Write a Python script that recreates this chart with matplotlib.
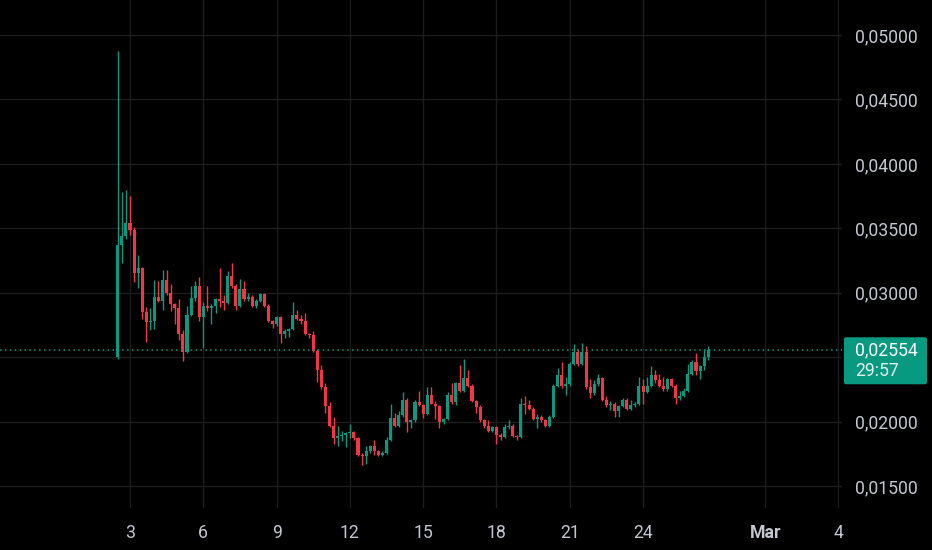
import matplotlib
matplotlib.use('Agg')
import matplotlib.pyplot as plt
import matplotlib.dates as mdates
from matplotlib.patches import FancyBboxPatch
import numpy as np
import pandas as pd

# 4h свещи, прочетени от графиката
opens = [0.0250, 0.0337, 0.0344, 0.0354, 0.0349, 0.0315, 0.0319, 0.0285, 0.0277, 0.0278,
         0.0297, 0.0294, 0.0310, 0.0300, 0.0291, 0.0288, 0.0268, 0.0254, 0.0283, 0.0296,
         0.0305, 0.0281, 0.0290, 0.0288, 0.0290, 0.0295, 0.0294, 0.0292, 0.0313, 0.0305,
         0.0290, 0.0303, 0.0295, 0.0297, 0.0290, 0.0294, 0.0299, 0.0290, 0.0278, 0.0276,
         0.0281, 0.0268, 0.0270, 0.0272, 0.0283, 0.0280, 0.0278, 0.0268, 0.0267, 0.0255,
         0.0240, 0.0227, 0.0212, 0.0197, 0.0187, 0.0189, 0.0190, 0.0191, 0.0192, 0.0187,
         0.0174, 0.0173, 0.0177, 0.0181, 0.0177, 0.0174, 0.0176, 0.0186, 0.0203, 0.0197,
         0.0205, 0.0217, 0.0200, 0.0201, 0.0215, 0.0213, 0.0206, 0.0221, 0.0214, 0.0212,
         0.0200, 0.0202, 0.0221, 0.0215, 0.0230, 0.0224, 0.0234, 0.0228, 0.0216, 0.0211,
         0.0201, 0.0197, 0.0193, 0.0196, 0.0190, 0.0188, 0.0196, 0.0197, 0.0189, 0.0188,
         0.0214, 0.0213, 0.0210, 0.0202, 0.0204, 0.0201, 0.0197, 0.0204, 0.0228, 0.0236,
         0.0228, 0.0229, 0.0245, 0.0254, 0.0245, 0.0254, 0.0227, 0.0222, 0.0229, 0.0234,
         0.0217, 0.0213, 0.0214, 0.0208, 0.0212, 0.0217, 0.0210, 0.0213, 0.0214, 0.0228,
         0.0223, 0.0228, 0.0236, 0.0232, 0.0228, 0.0225, 0.0233, 0.0228, 0.0218, 0.0220,
         0.0224, 0.0237, 0.0246, 0.0239, 0.0243, 0.0250]
highs = [0.0488, 0.0378, 0.0380, 0.0375, 0.0351, 0.0329, 0.0320, 0.0289, 0.0288, 0.0310,
         0.0309, 0.0318, 0.0318, 0.0307, 0.0292, 0.0295, 0.0271, 0.0290, 0.0305, 0.0309,
         0.0312, 0.0293, 0.0305, 0.0291, 0.0296, 0.0319, 0.0298, 0.0317, 0.0323, 0.0307,
         0.0311, 0.0309, 0.0300, 0.0298, 0.0295, 0.0300, 0.0300, 0.0291, 0.0279, 0.0282,
         0.0282, 0.0272, 0.0273, 0.0293, 0.0287, 0.0283, 0.0284, 0.0269, 0.0270, 0.0256,
         0.0244, 0.0230, 0.0215, 0.0204, 0.0197, 0.0193, 0.0192, 0.0198, 0.0193, 0.0188,
         0.0176, 0.0181, 0.0182, 0.0186, 0.0178, 0.0177, 0.0188, 0.0214, 0.0207, 0.0208,
         0.0223, 0.0218, 0.0202, 0.0217, 0.0224, 0.0214, 0.0227, 0.0227, 0.0216, 0.0213,
         0.0203, 0.0223, 0.0230, 0.0231, 0.0244, 0.0249, 0.0240, 0.0229, 0.0217, 0.0213,
         0.0202, 0.0201, 0.0197, 0.0197, 0.0191, 0.0198, 0.0201, 0.0198, 0.0190, 0.0218,
         0.0220, 0.0217, 0.0211, 0.0206, 0.0205, 0.0202, 0.0205, 0.0229, 0.0242, 0.0246,
         0.0235, 0.0246, 0.0260, 0.0256, 0.0261, 0.0259, 0.0233, 0.0232, 0.0237, 0.0235,
         0.0220, 0.0216, 0.0215, 0.0213, 0.0218, 0.0218, 0.0217, 0.0215, 0.0235, 0.0233,
         0.0235, 0.0243, 0.0240, 0.0237, 0.0235, 0.0234, 0.0234, 0.0229, 0.0224, 0.0226,
         0.0245, 0.0248, 0.0253, 0.0244, 0.0256, 0.0259]
lows = [0.0249, 0.0323, 0.0342, 0.0345, 0.0308, 0.0304, 0.0280, 0.0262, 0.0271, 0.0272,
        0.0293, 0.0287, 0.0298, 0.0286, 0.0276, 0.0263, 0.0247, 0.0253, 0.0282, 0.0294,
        0.0278, 0.0257, 0.0286, 0.0276, 0.0284, 0.0289, 0.0287, 0.0291, 0.0304, 0.0287,
        0.0289, 0.0294, 0.0294, 0.0289, 0.0288, 0.0293, 0.0289, 0.0277, 0.0273, 0.0274,
        0.0261, 0.0265, 0.0266, 0.0271, 0.0279, 0.0276, 0.0267, 0.0265, 0.0254, 0.0231,
        0.0225, 0.0207, 0.0196, 0.0183, 0.0181, 0.0185, 0.0180, 0.0187, 0.0186, 0.0173,
        0.0166, 0.0167, 0.0176, 0.0174, 0.0173, 0.0173, 0.0175, 0.0185, 0.0196, 0.0196,
        0.0204, 0.0192, 0.0195, 0.0200, 0.0212, 0.0203, 0.0205, 0.0214, 0.0202, 0.0195,
        0.0198, 0.0201, 0.0214, 0.0213, 0.0223, 0.0223, 0.0227, 0.0215, 0.0207, 0.0200,
        0.0195, 0.0192, 0.0192, 0.0183, 0.0186, 0.0187, 0.0194, 0.0188, 0.0186, 0.0187,
        0.0206, 0.0209, 0.0201, 0.0195, 0.0200, 0.0196, 0.0196, 0.0203, 0.0227, 0.0226,
        0.0221, 0.0228, 0.0244, 0.0243, 0.0244, 0.0225, 0.0218, 0.0221, 0.0228, 0.0216,
        0.0211, 0.0209, 0.0204, 0.0204, 0.0211, 0.0209, 0.0209, 0.0211, 0.0213, 0.0214,
        0.0222, 0.0227, 0.0230, 0.0227, 0.0224, 0.0224, 0.0227, 0.0214, 0.0217, 0.0219,
        0.0223, 0.0236, 0.0236, 0.0233, 0.0240, 0.0248]
closes = [0.0337, 0.0344, 0.0354, 0.0349, 0.0315, 0.0319, 0.0285, 0.0277, 0.0278, 0.0297,
          0.0294, 0.0310, 0.0300, 0.0291, 0.0288, 0.0268, 0.0254, 0.0283, 0.0296, 0.0305,
          0.0281, 0.0290, 0.0288, 0.0290, 0.0295, 0.0294, 0.0292, 0.0313, 0.0305, 0.0290,
          0.0303, 0.0295, 0.0297, 0.0290, 0.0294, 0.0299, 0.0290, 0.0278, 0.0276, 0.0281,
          0.0268, 0.0270, 0.0272, 0.0283, 0.0280, 0.0278, 0.0268, 0.0267, 0.0255, 0.0240,
          0.0227, 0.0212, 0.0197, 0.0187, 0.0189, 0.0190, 0.0191, 0.0192, 0.0187, 0.0174,
          0.0173, 0.0177, 0.0181, 0.0177, 0.0174, 0.0176, 0.0186, 0.0203, 0.0197, 0.0205,
          0.0217, 0.0200, 0.0201, 0.0215, 0.0213, 0.0206, 0.0221, 0.0214, 0.0212, 0.0200,
          0.0202, 0.0221, 0.0215, 0.0230, 0.0224, 0.0234, 0.0228, 0.0216, 0.0211, 0.0201,
          0.0197, 0.0193, 0.0196, 0.0190, 0.0188, 0.0196, 0.0197, 0.0189, 0.0188, 0.0214,
          0.0213, 0.0210, 0.0202, 0.0204, 0.0201, 0.0197, 0.0204, 0.0228, 0.0236, 0.0228,
          0.0229, 0.0245, 0.0254, 0.0245, 0.0254, 0.0227, 0.0222, 0.0229, 0.0234, 0.0217,
          0.0213, 0.0214, 0.0208, 0.0212, 0.0217, 0.0210, 0.0213, 0.0214, 0.0228, 0.0223,
          0.0228, 0.0236, 0.0232, 0.0228, 0.0225, 0.0233, 0.0228, 0.0218, 0.0220, 0.0224,
          0.0237, 0.0246, 0.0239, 0.0243, 0.0250, 0.02554]

first_bar = '2025-02-02 12:00'
last_price = 0.02554
countdown = '29:57'

price_ticks = [0.015, 0.020, 0.025, 0.030, 0.035, 0.040, 0.045, 0.050]
date_ticks = ['2025-02-03', '2025-02-06', '2025-02-09', '2025-02-12', '2025-02-15',
              '2025-02-18', '2025-02-21', '2025-02-24', '2025-03-01', '2025-03-04']
date_labels = ['3', '6', '9', '12', '15', '18', '21', '24', 'Mar', '4']

UP = '#089981'
DOWN = '#f23645'
BG = '#000000'
GRID = '#1c1c1c'
TXT = '#c4c7cf'
FS = 12.7

plt.rcParams['font.family'] = ['Roboto', 'DejaVu Sans']

o = np.array(opens)
h = np.array(highs)
l = np.array(lows)
c = np.array(closes)
t = mdates.date2num(pd.date_range(first_bar, periods=len(c), freq='4h'))
cols = np.where(c >= o, UP, DOWN)

W, H = 932, 550
fig = plt.figure(figsize=(W / 100, H / 100), dpi=100, facecolor=BG)
ax = fig.add_axes([0, 42 / H, 842 / W, 1 - 42 / H], facecolor=BG)

ax.vlines(t, l, h, colors=cols, linewidth=1, zorder=3)
body = np.maximum(np.abs(c - o), 0.00006)
ax.bar(t, body, bottom=np.minimum(o, c), width=0.125, color=cols, linewidth=0, zorder=4)

ax.axhline(last_price, color=UP, linestyle=(0, (1, 2.2)), linewidth=1.1, zorder=5)

ax.set_xlim(mdates.date2num(pd.Timestamp('2025-01-28 16:18')),
            mdates.date2num(pd.Timestamp('2025-03-04 03:27')))
ax.set_ylim(0.01330, 0.05272)

ax.set_xticks(mdates.date2num(pd.to_datetime(date_ticks)))
ax.set_xticklabels(date_labels)
for lab in ax.get_xticklabels():
    if lab.get_text() == 'Mar':
        lab.set_fontweight('bold')
ax.set_yticks(price_ticks)
# метката на последната цена закрива етикета 0,02500
ax.set_yticklabels(['' if abs(v - last_price) < 0.002 else f'{v:.5f}'.replace('.', ',')
                    for v in price_ticks])
ax.yaxis.tick_right()
ax.tick_params(axis='y', length=0, pad=9.2, labelsize=FS, colors=TXT)
ax.tick_params(axis='x', length=0, pad=11.5, labelsize=FS, colors=TXT)
ax.grid(True, color=GRID, linewidth=1)
ax.set_axisbelow(True)
for s in ax.spines.values():
    s.set_visible(False)

# метка с текущата цена
_, py = ax.transData.transform((ax.get_xlim()[0], last_price))
fig.add_artist(FancyBboxPatch((844, py - 34), 83, 47, boxstyle='round,pad=0,rounding_size=2',
                              transform=None, facecolor=UP, edgecolor='none', zorder=5))
fig.text(855 / W, py / H, f'{last_price:.5f}'.replace('.', ','), color='white',
         fontsize=FS, va='center', ha='left', zorder=6)
fig.text(855 / W, (py - 21) / H, countdown, color='#e3efec',
         fontsize=FS, va='center', ha='left', zorder=6)

fig.savefig('out.png', dpi=100, facecolor=BG)
